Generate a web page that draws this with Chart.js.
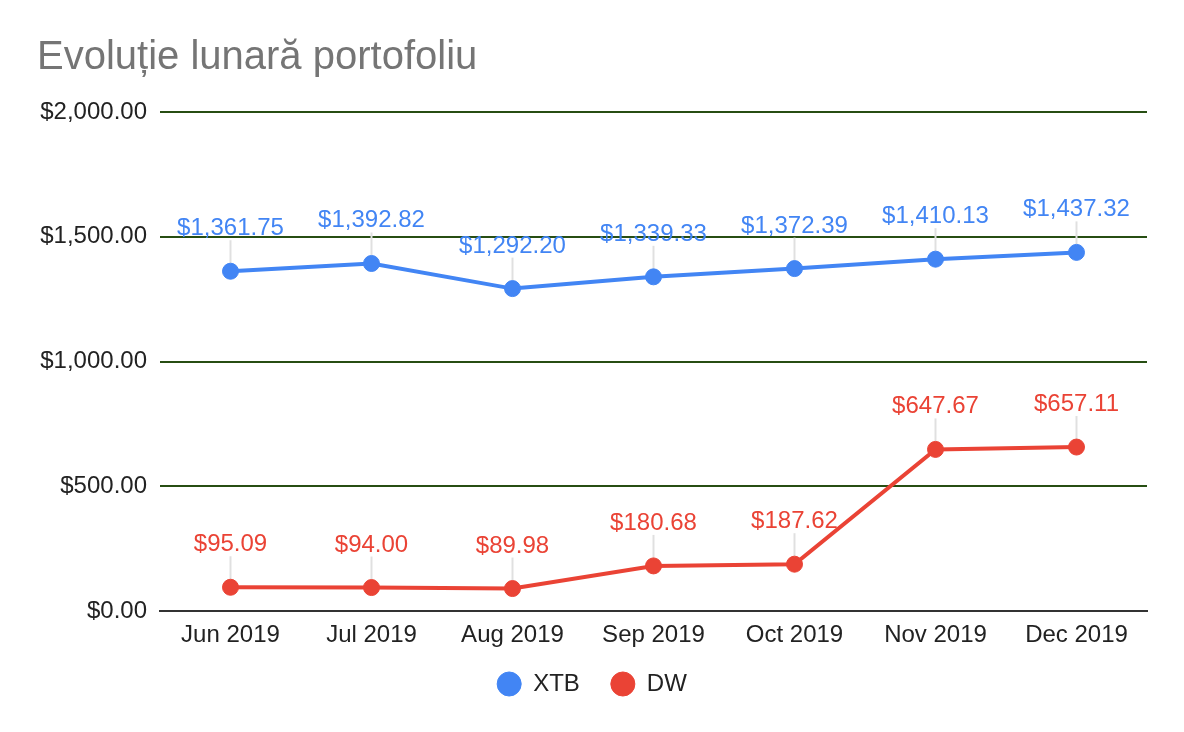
<!DOCTYPE html>
<html>
<head>
<meta charset="utf-8">
<script src="https://cdn.jsdelivr.net/npm/chart.js@4/dist/chart.umd.min.js"></script>
<style>
  html, body { margin: 0; padding: 0; background: #fff; }
  #wrap { width: 1184px; height: 732px; }
</style>
</head>
<body>
<div id="wrap"><canvas id="lineChart"></canvas></div>
<script>
const MONTHS = ['Jun 2019', 'Jul 2019', 'Aug 2019', 'Sep 2019', 'Oct 2019', 'Nov 2019', 'Dec 2019'];
const XTB = [1361.75, 1392.82, 1292.20, 1339.33, 1372.39, 1410.13, 1437.32];
const DW = [95.09, 94.00, 89.98, 180.68, 187.62, 647.67, 657.11];
const Y_TICKS = [0, 500, 1000, 1500, 2000];

const FONT = "'Liberation Sans', Arial, sans-serif";

const money = v => '$' + v.toLocaleString('en-US', { minimumFractionDigits: 2, maximumFractionDigits: 2 });

// leader lines under the points, value text on top
const pointLabels = {
    id: 'pointLabels',
    afterLayout(chart) {
        // x axis box is squeezed in afterFit; let its labels draw past it
        chart.scales.x.bottom = chart.scales.x.top + 45;
    },
    beforeDatasetsDraw(chart) {
        const ctx = chart.ctx;
        ctx.save();
        ctx.strokeStyle = '#e0e0e0';
        ctx.lineWidth = 2;
        chart.data.datasets.forEach((ds, i) => {
            chart.getDatasetMeta(i).data.forEach(pt => {
                ctx.beginPath();
                ctx.moveTo(pt.x, pt.y - 8);
                ctx.lineTo(pt.x, pt.y - 31);
                ctx.stroke();
            });
        });
        ctx.restore();
    },
    afterDatasetsDraw(chart) {
        const ctx = chart.ctx;
        ctx.save();
        ctx.font = '24px ' + FONT;
        ctx.textAlign = 'center';
        ctx.textBaseline = 'alphabetic';
        chart.data.datasets.forEach((ds, i) => {
            ctx.fillStyle = ds.borderColor;
            chart.getDatasetMeta(i).data.forEach((pt, j) => {
                ctx.fillText(money(ds.data[j]), pt.x, pt.y - 36);
            });
        });
        ctx.restore();
    }
};

const ctx = document.getElementById('lineChart').getContext('2d');
new Chart(ctx, {
    type: 'line',
    data: {
        labels: MONTHS,
        datasets: [{
            label: 'XTB',
            data: XTB,
            borderColor: '#4285f4',
            backgroundColor: '#4285f4',
            borderWidth: 4,
            pointRadius: 8,
            pointBorderWidth: 1,
            pointHoverRadius: 8,
            tension: 0
        }, {
            label: 'DW',
            data: DW,
            borderColor: '#ea4335',
            backgroundColor: '#ea4335',
            borderWidth: 4,
            pointRadius: 8,
            pointBorderWidth: 1,
            pointHoverRadius: 8,
            tension: 0
        }]
    },
    options: {
        responsive: true,
        maintainAspectRatio: false,
        animation: false,
        layout: {
            padding: { left: 37, right: 37, top: 0, bottom: 26 }
        },
        plugins: {
            title: {
                display: true,
                text: 'Evoluție lunară portofoliu',
                align: 'start',
                color: '#757575',
                font: { family: FONT, size: 40, weight: 'normal' },
                padding: { top: 34, bottom: 30 }
            },
            legend: {
                position: 'bottom',
                labels: {
                    usePointStyle: true,
                    pointStyle: 'circle',
                    boxWidth: 24,
                    boxHeight: 17,
                    padding: 31,
                    color: '#222',
                    font: { family: FONT, size: 24 }
                }
            },
            tooltip: { enabled: false }
        },
        scales: {
            x: {
                offset: true,
                afterFit: scale => { scale.height = 30; },
                grid: { display: false, drawTicks: false },
                border: { display: true, color: '#333', width: 2 },
                ticks: {
                    color: '#222',
                    padding: 10,
                    maxRotation: 0,
                    font: { family: FONT, size: 24 }
                }
            },
            y: {
                min: 0,
                max: 2000,
                afterBuildTicks: scale => {
                    scale.ticks = Y_TICKS.map(v => ({ value: v }));
                },
                afterFit: scale => { scale.width = 123; },
                grid: {
                    color: ctx => ctx.tick.value === 0 ? 'rgba(0,0,0,0)' : '#274e13',
                    lineWidth: 2,
                    drawTicks: false
                },
                border: { display: false },
                ticks: {
                    color: '#222',
                    padding: 13,
                    font: { family: FONT, size: 24 },
                    callback: v => money(v)
                }
            }
        }
    },
    plugins: [pointLabels]
});
</script>
</body>
</html>
